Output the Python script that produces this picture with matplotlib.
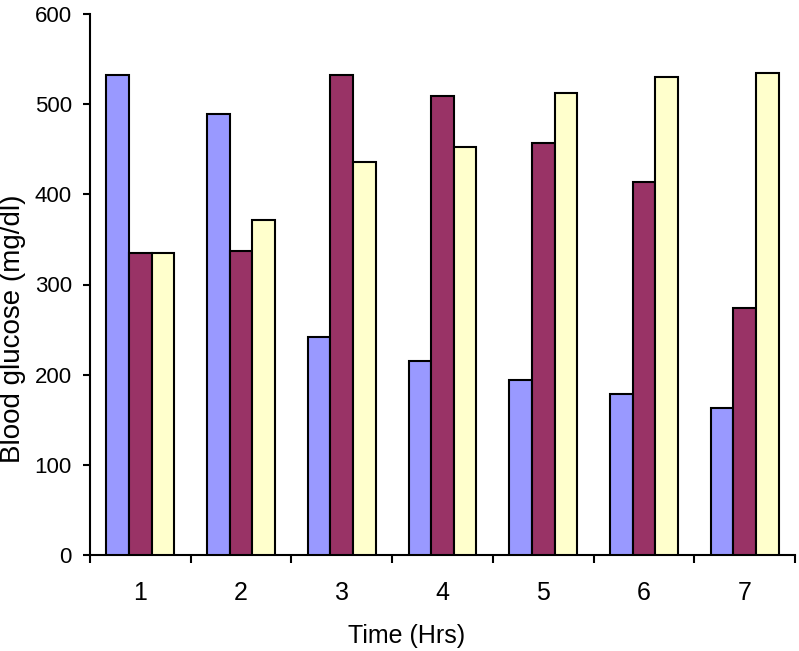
import matplotlib
matplotlib.use("Agg")
import matplotlib.pyplot as plt
import numpy as np

plt.rcParams['font.family'] = ['Liberation Sans', 'DejaVu Sans']

categories = ['1', '2', '3', '4', '5', '6', '7']
series_a = [532, 489, 242, 215, 194, 179, 163]
series_b = [335, 337, 532, 509, 457, 414, 274]
series_c = [335, 372, 436, 452, 512, 530, 535]
yticks = [0, 100, 200, 300, 400, 500, 600]

colors = ['#9999FF', '#993366', '#FFFFCC']
fig = plt.figure(figsize=(7.99, 6.51), dpi=100)
ax = fig.add_axes([90/799, 96/651, 705/799, 541/651])

x = np.arange(1, len(categories) + 1)
w = 0.225
for off, vals, c in zip([-w, 0, w], [series_a, series_b, series_c], colors):
    ax.bar(x + off, vals, width=w, color=c, edgecolor='black', linewidth=1.5, zorder=3)

ax.set_xlim(0.5, len(categories) + 0.5)
ax.set_ylim(0, 600)
ax.set_yticks(yticks)
ax.set_yticklabels([str(t) for t in yticks], fontsize=16)
ax.set_xticks(x)
ax.set_xticklabels(categories, fontsize=18)
ax.set_xticks(np.arange(0.5, len(categories) + 1, 1), minor=True)
ax.tick_params(axis='x', which='major', length=0, pad=19)
ax.tick_params(axis='x', which='minor', length=6, width=1.5, direction='out')
ax.tick_params(axis='y', which='major', length=5, width=1.5, direction='out', pad=8)

for s in ['top', 'right']:
    ax.spines[s].set_visible(False)
for s in ['left', 'bottom']:
    ax.spines[s].set_linewidth(1.5)

ax.set_xlabel('Time (Hrs)', fontsize=18)
ax.xaxis.set_label_coords((407 - 90) / 705, -(636 - 555) / 541)
ax.xaxis.label.set_va('center')
ax.set_ylabel('Blood glucose (mg/dl)', fontsize=20)
ax.yaxis.set_label_coords((13.5 - 90) / 705, (555 - 329) / 541)
ax.yaxis.label.set_va('center')

fig.savefig('out.png', dpi=100)
